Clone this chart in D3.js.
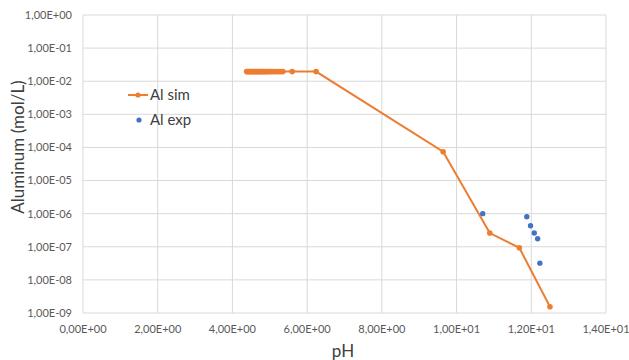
<!DOCTYPE html>
<html><head><meta charset="utf-8">
<script src="https://cdn.jsdelivr.net/npm/d3@7"></script>
<style>body{margin:0;background:#fff}svg{display:block}</style>
</head><body>
<svg id="c" width="629" height="360"></svg>
<script>
const simX = [4.38,4.41,4.44,4.47,4.50,4.53,4.56,4.59,4.62,4.65,4.68,4.71,4.74,4.77,4.80,4.84,4.88,4.92,4.96,5.00,5.05,5.10,5.16,5.22,5.28,5.35,5.60,6.24,9.64,10.89,11.68,12.50];
const simY = [0.0195,0.0195,0.0195,0.0195,0.0195,0.0195,0.0195,0.0195,0.0195,0.0195,0.0195,0.0195,0.0195,0.0195,0.0195,0.0195,0.0195,0.0195,0.0195,0.0195,0.0195,0.0195,0.0195,0.0195,0.0195,0.0195,0.0195,0.0195,7.4e-5,2.6e-7,9.3e-8,1.55e-9];
const expX = [10.70,11.88,11.98,12.08,12.17,12.23];
const expY = [1.0e-6,8.1e-7,4.3e-7,2.6e-7,1.75e-7,3.2e-8];
const xTicks = [0,2,4,6,8,10,12,14];
const yTicks = [1,1e-1,1e-2,1e-3,1e-4,1e-5,1e-6,1e-7,1e-8,1e-9];
const seriesNames = ["Al sim","Al exp"];

const svg = d3.select("#c");
const L=83,R=606,T=15,B=313;
const x = d3.scaleLinear().domain([0,14]).range([L,R]);
const y = d3.scaleLog().domain([1e-9,1]).range([B,T]);
const font = "Lato, 'Open Sans', sans-serif";
function fmt(v){
  let ex = v===0?0:Math.floor(Math.log10(v)+1e-9);
  const m = v===0?0:v/Math.pow(10,ex);
  const s = ex<0?"-":"+";
  return m.toFixed(2).replace(".",",")+"E"+s+String(Math.abs(ex)).padStart(2,"0");
}
// grid
svg.append("g").selectAll("line").data(yTicks).join("line")
  .attr("x1",L).attr("x2",R).attr("y1",d=>y(d)).attr("y2",d=>y(d))
  .attr("stroke","#d9d9d9").attr("stroke-width",1);
svg.append("g").selectAll("line").data(xTicks).join("line")
  .attr("x1",d=>x(d)).attr("x2",d=>x(d)).attr("y1",T).attr("y2",B)
  .attr("stroke","#d9d9d9").attr("stroke-width",1);
// tick labels
svg.append("g").selectAll("text").data(yTicks).join("text")
  .attr("x",L-11).attr("y",d=>y(d)).attr("dy","0.35em").attr("text-anchor","end")
  .attr("font-family",font).attr("font-size",11).attr("fill","#595959").text(fmt);
svg.append("g").selectAll("text").data(xTicks).join("text")
  .attr("x",d=>x(d)).attr("y",B+16).attr("dy","0.35em").attr("text-anchor","middle")
  .attr("font-family",font).attr("font-size",11).attr("fill","#595959").text(fmt);
// axis titles
svg.append("text").attr("x",343).attr("y",351).attr("dy","0.35em").attr("text-anchor","middle")
  .attr("font-family",font).attr("font-size",17).attr("fill","#404040").text("pH");
svg.append("text").attr("transform","translate(18,147) rotate(-90)").attr("dy","0.35em").attr("text-anchor","middle")
  .attr("font-family",font).attr("font-size",17).attr("fill","#404040").text("Aluminum (mol/L)");
// sim line
const sim = simX.map((v,i)=>[v,simY[i]]);
svg.append("path").datum(sim).attr("fill","none").attr("stroke","#ED7D31").attr("stroke-width",2)
  .attr("d",d3.line().x(d=>x(d[0])).y(d=>y(d[1])));
svg.append("g").selectAll("circle").data(sim).join("circle")
  .attr("cx",d=>x(d[0])).attr("cy",d=>y(d[1])).attr("r",2.8).attr("fill","#ED7D31");
// exp points
const ex = expX.map((v,i)=>[v,expY[i]]);
svg.append("g").selectAll("circle").data(ex).join("circle")
  .attr("cx",d=>x(d[0])).attr("cy",d=>y(d[1])).attr("r",2.7).attr("fill","#4472C4");
// legend
svg.append("line").attr("x1",128).attr("x2",148).attr("y1",95).attr("y2",95).attr("stroke","#ED7D31").attr("stroke-width",2);
svg.append("circle").attr("cx",138).attr("cy",95).attr("r",2.6).attr("fill","#ED7D31");
svg.append("text").attr("x",150).attr("y",95).attr("dy","0.35em").attr("font-family",font).attr("font-size",15).attr("fill","#404040").text(seriesNames[0]);
svg.append("circle").attr("cx",139).attr("cy",120).attr("r",2.6).attr("fill","#4472C4");
svg.append("text").attr("x",150).attr("y",120).attr("dy","0.35em").attr("font-family",font).attr("font-size",15).attr("fill","#404040").text(seriesNames[1]);
</script>
</body></html>
